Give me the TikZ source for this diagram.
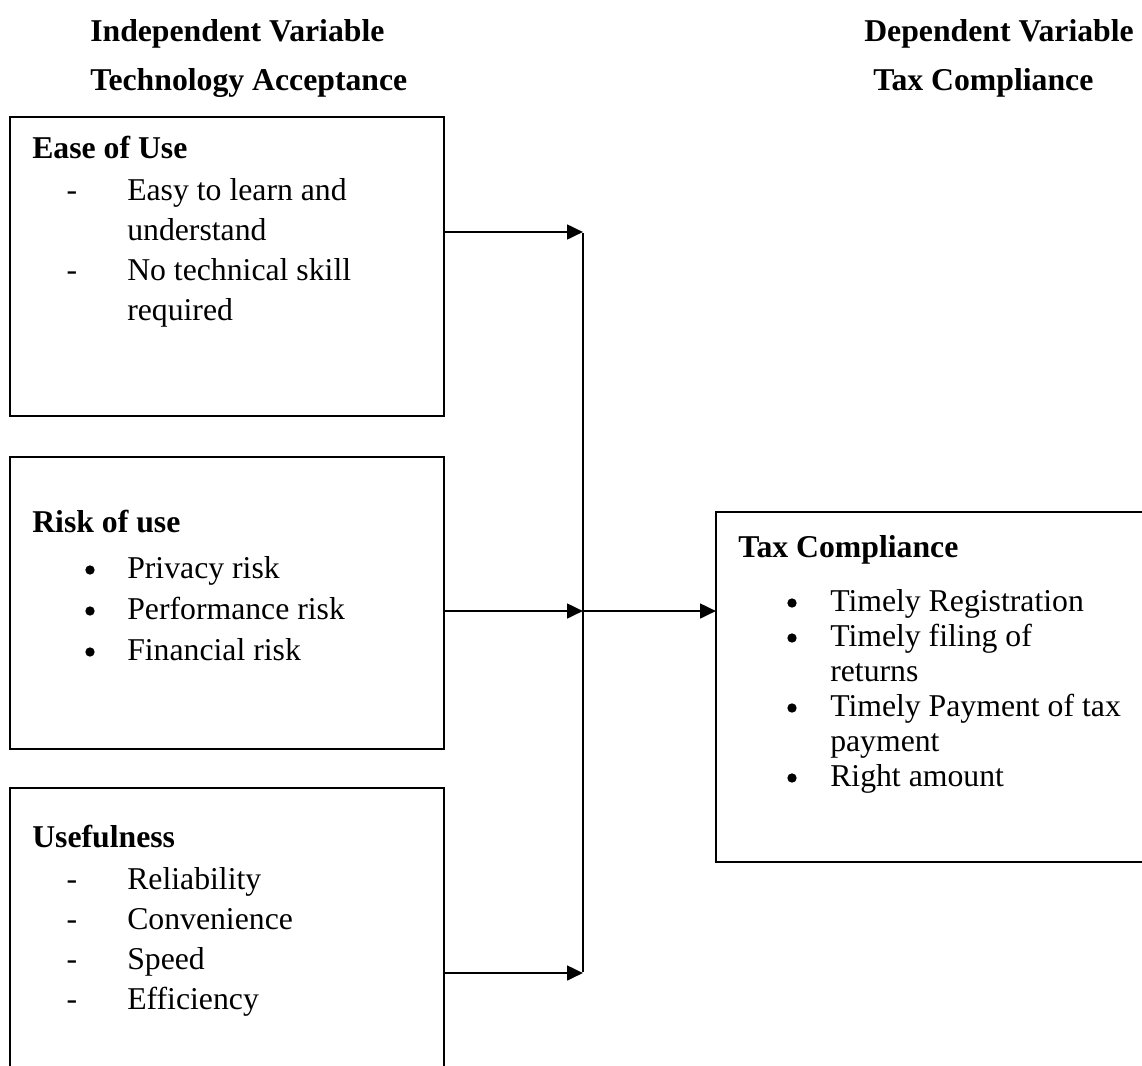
\documentclass[tikz,border=0pt]{standalone}
\usepackage{fontspec}
\setmainfont{Liberation Serif}
\usetikzlibrary{arrows.meta}
\begin{document}
\begin{tikzpicture}[x=0.75pt,y=-0.75pt,
  every node/.style={font=\fontsize{23.8}{27}\selectfont},
  box/.style={draw, line width=1.5pt, inner sep=0pt, outer sep=0pt, anchor=north west},
  hd/.style={anchor=base west, inner sep=0pt, font=\fontsize{23.8}{27}\selectfont\bfseries},
  txt/.style={anchor=base west, inner sep=0pt},
  mk/.style={anchor=base, inner sep=0pt},
  bul/.style={circle, fill, inner sep=0pt, minimum size=7pt},
  arr/.style={line width=2pt, -{Triangle[length=12pt,width=11pt]}},
  ln/.style={line width=2pt}]
\useasboundingbox (0,0) rectangle (1142,1065);
\clip (0,0) rectangle (1142,1065);
% headers
\node[hd] (h1) at (90,41) {Independent Variable};
\node[hd] (h2) at (90,90) {Technology Acceptance};
\node[hd] (h3) at (864,41) {Dependent Variable};
\node[hd] (h4) at (873,90) {Tax Compliance};
% boxes
\node[box, minimum width=434*0.75pt, minimum height=299*0.75pt] (ease) at (10,117) {};
\node[box, minimum width=434*0.75pt, minimum height=292*0.75pt] (risk) at (10,457) {};
\node[box, minimum width=434*0.75pt, minimum height=320*0.75pt] (use) at (10,788) {};
\node[box, minimum width=450*0.75pt, minimum height=350*0.75pt] (tax) at (716,512) {};
% ease content
\node[hd] (e0) at (32,158) {Ease of Use};
\node[mk] (e1d) at (72,200) {-};
\node[txt] (e1) at (127,200) {Easy to learn and};
\node[txt] (e1b) at (127,240) {understand};
\node[mk] (e2d) at (72,280) {-};
\node[txt] (e2) at (127,280) {No technical skill};
\node[txt] (e2b) at (127,320) {required};
% risk content
\node[hd] (r0) at (32,532) {Risk of use};
\node[bul] (r1d) at (90,570) {};
\node[txt] (r1) at (127,578) {Privacy risk};
\node[bul] (r2d) at (90,611) {};
\node[txt] (r2) at (127,619) {Performance risk};
\node[bul] (r3d) at (90,652) {};
\node[txt] (r3) at (127,660) {Financial risk};
% usefulness content
\node[hd] (u0) at (32,847) {Usefulness};
\node[mk] (u1d) at (72,889) {-};
\node[txt] (u1) at (127,889) {Reliability};
\node[mk] (u2d) at (72,929) {-};
\node[txt] (u2) at (127,929) {Convenience};
\node[mk] (u3d) at (72,969) {-};
\node[txt] (u3) at (127,969) {Speed};
\node[mk] (u4d) at (72,1009) {-};
\node[txt] (u4) at (127,1009) {Efficiency};
% tax content
\node[hd] (t0) at (738,557) {Tax Compliance};
\node[bul] (t1d) at (792,603) {};
\node[txt] (t1) at (830,611) {Timely Registration};
\node[bul] (t2d) at (792,638) {};
\node[txt] (t2) at (830,646) {Timely filing of};
\node[txt] (t2b) at (830,681) {returns};
\node[bul] (t3d) at (792,708) {};
\node[txt] (t3) at (830,716) {Timely Payment of tax};
\node[txt] (t3b) at (830,751) {payment};
\node[bul] (t4d) at (792,778) {};
\node[txt] (t4) at (830,786) {Right amount};
% connectors
\coordinate (j1) at (583,232);
\coordinate (j2) at (583,611);
\coordinate (j3) at (583,973);
\draw[arr] (ease.east |- j1) -- (j1);
\draw[arr] (risk.east |- j2) -- (j2);
\draw[arr] (use.east |- j3) -- (j3);
\draw[ln] ([yshift=-1pt]j1) -- ([yshift=1pt]j3);
\draw[arr] (j2) -- (tax.west |- j2);
\end{tikzpicture}
\end{document}
